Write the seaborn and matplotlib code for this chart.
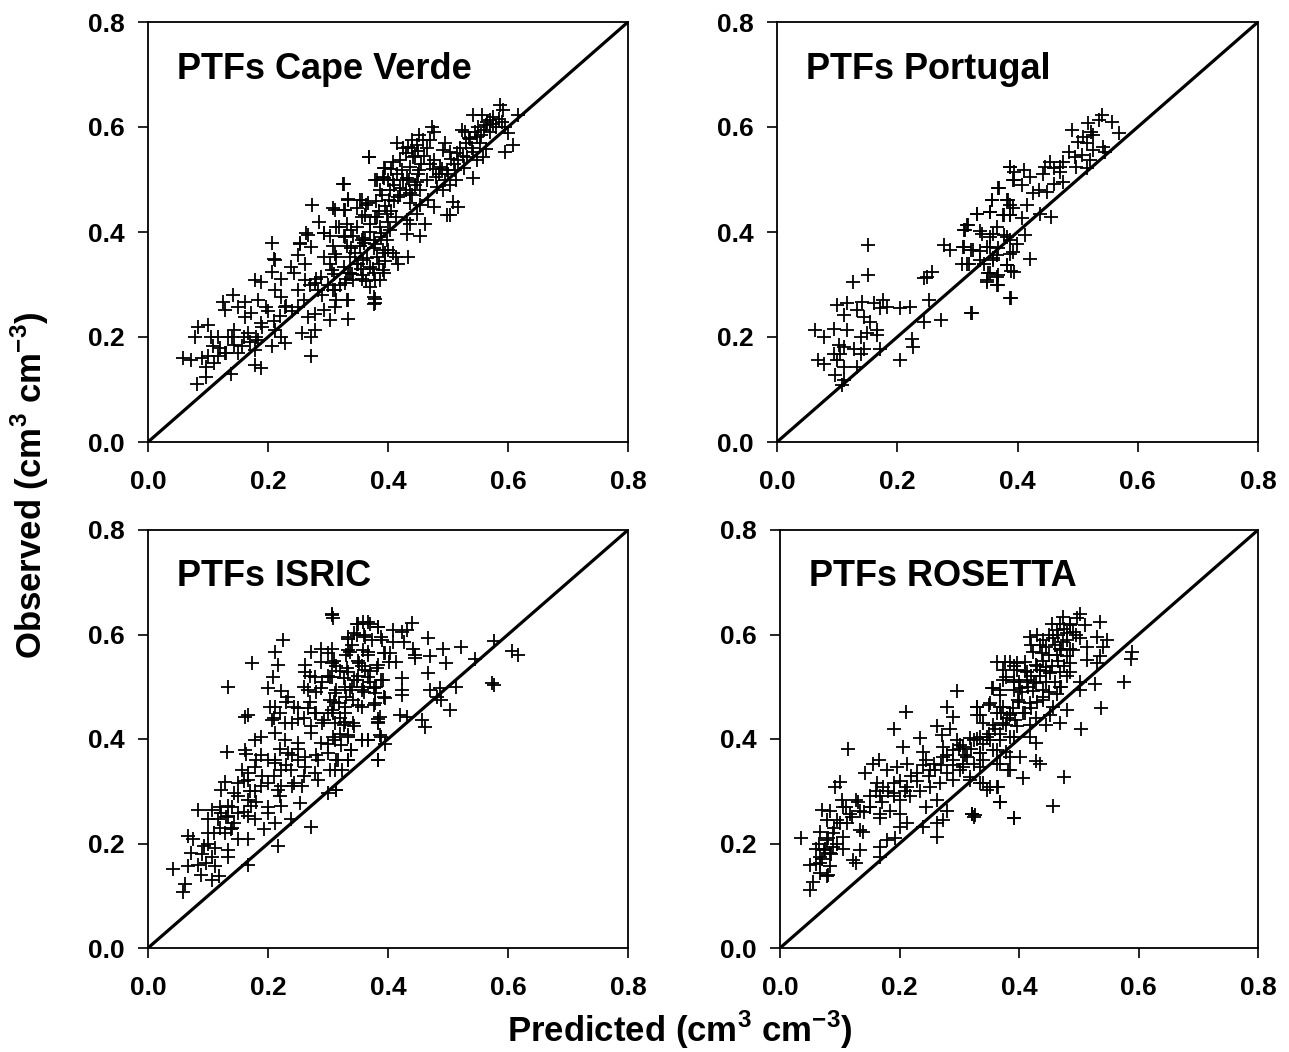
import numpy as np
import pandas as pd
import matplotlib
matplotlib.use("Agg")
import matplotlib.pyplot as plt
import seaborn as sns

# ---------------------------------------------------------------------------
# Water content (cm3 cm-3): predicted vs observed for four sets of PTFs
# ---------------------------------------------------------------------------
titles = ["PTFs Cape Verde", "PTFs Portugal", "PTFs ISRIC", "PTFs ROSETTA"]
ticks = [0.0, 0.2, 0.4, 0.6, 0.8]
tick_labels = ["0.0", "0.2", "0.4", "0.6", "0.8"]

cape_verde_pred = [
    0.587, 0.592, 0.617, 0.542, 0.556, 0.570, 0.575, 0.564, 0.523, 0.528, 0.473, 0.476, 0.600, 0.609, 0.595,
    0.451, 0.440, 0.459, 0.470, 0.448, 0.434, 0.495, 0.492, 0.503, 0.537, 0.548, 0.553, 0.564, 0.542, 0.531,
    0.517, 0.548, 0.559, 0.369, 0.409, 0.420, 0.442, 0.395, 0.423, 0.437, 0.451, 0.476, 0.487, 0.498, 0.512,
    0.526, 0.542, 0.514, 0.503, 0.492, 0.481, 0.378, 0.392, 0.409, 0.431, 0.448, 0.465, 0.326, 0.387, 0.403,
    0.420, 0.437, 0.453, 0.467, 0.334, 0.353, 0.367, 0.401, 0.417, 0.437, 0.453, 0.476, 0.517, 0.509, 0.309,
    0.326, 0.348, 0.362, 0.381, 0.398, 0.414, 0.431, 0.448, 0.462, 0.498, 0.503, 0.314, 0.331, 0.348, 0.370,
    0.387, 0.403, 0.437, 0.431, 0.453, 0.303, 0.326, 0.342, 0.359, 0.376, 0.398, 0.309, 0.331, 0.353, 0.376,
    0.392, 0.409, 0.414, 0.434, 0.417, 0.314, 0.337, 0.359, 0.381, 0.395, 0.303, 0.326, 0.348, 0.370, 0.392,
    0.337, 0.359, 0.376, 0.342, 0.364, 0.387, 0.370, 0.309, 0.314, 0.331, 0.376, 0.376,
    0.206, 0.253, 0.267, 0.294, 0.211, 0.250, 0.261, 0.294, 0.311, 0.328, 0.339, 0.356, 0.378, 0.389, 0.400,
    0.333, 0.356, 0.378, 0.394, 0.378, 0.378, 0.178, 0.189, 0.206, 0.222, 0.239, 0.244, 0.261, 0.278, 0.289,
    0.306, 0.311, 0.328, 0.283, 0.142, 0.125, 0.128, 0.150, 0.161, 0.183, 0.197, 0.211, 0.222, 0.228, 0.250,
    0.267, 0.278, 0.294, 0.311, 0.303, 0.333, 0.333, 0.161, 0.172, 0.189, 0.083, 0.100, 0.078, 0.117, 0.144,
    0.133, 0.167, 0.183, 0.211, 0.222, 0.228, 0.206, 0.256, 0.272, 0.278, 0.108, 0.144, 0.156, 0.128, 0.178,
    0.100, 0.117, 0.058, 0.072, 0.097, 0.097, 0.081, 0.139, 0.178, 0.189, 0.272,
    0.368, 0.325, 0.273, 0.285, 0.210, 0.333, 0.311, 0.328, 0.356, 0.364, 0.381, 0.394, 0.394, 0.264, 0.253,
    0.272, 0.294, 0.319, 0.339, 0.356, 0.378, 0.389, 0.361,
    0.415, 0.425, 0.430, 0.440, 0.445, 0.450, 0.455, 0.460, 0.465, 0.470, 0.475, 0.480, 0.485, 0.490, 0.495,
    0.500, 0.505, 0.510, 0.515, 0.520, 0.525, 0.530, 0.535, 0.540, 0.545, 0.550, 0.555, 0.560, 0.565, 0.570,
    0.575, 0.580, 0.585, 0.590, 0.595, 0.400, 0.405, 0.410, 0.415, 0.420, 0.425, 0.430, 0.435, 0.440, 0.445,
    0.450, 0.390, 0.385, 0.395, 0.400, 0.405, 0.410, 0.380, 0.370, 0.360, 0.350, 0.345, 0.355, 0.365, 0.375,
    0.385, 0.395, 0.340, 0.330, 0.320, 0.310, 0.300, 0.290, 0.280, 0.270, 0.260, 0.250, 0.240, 0.230, 0.220,
    0.210, 0.200, 0.190, 0.180, 0.170, 0.160, 0.150, 0.140, 0.130, 0.120, 0.110, 0.105, 0.090,
]
cape_verde_obs = [
    0.642, 0.632, 0.623, 0.623, 0.623, 0.613, 0.606, 0.604, 0.594, 0.591, 0.600, 0.591, 0.589, 0.565, 0.553,
    0.585, 0.575, 0.575, 0.575, 0.566, 0.562, 0.569, 0.556, 0.553, 0.578, 0.581, 0.569, 0.559, 0.553, 0.543,
    0.537, 0.537, 0.543, 0.543, 0.534, 0.537, 0.543, 0.521, 0.518, 0.524, 0.518, 0.537, 0.524, 0.518, 0.518,
    0.521, 0.502, 0.499, 0.490, 0.480, 0.486, 0.499, 0.505, 0.499, 0.502, 0.496, 0.499, 0.491, 0.480, 0.480,
    0.483, 0.474, 0.480, 0.461, 0.461, 0.461, 0.455, 0.461, 0.467, 0.455, 0.451, 0.448, 0.448, 0.457, 0.446,
    0.442, 0.446, 0.432, 0.429, 0.435, 0.429, 0.423, 0.435, 0.416, 0.432, 0.432, 0.410, 0.416, 0.410, 0.416,
    0.410, 0.404, 0.416, 0.397, 0.393, 0.392, 0.392, 0.392, 0.389, 0.385, 0.385, 0.373, 0.373, 0.373, 0.370,
    0.366, 0.360, 0.353, 0.353, 0.340, 0.353, 0.353, 0.347, 0.353, 0.344, 0.340, 0.334, 0.340, 0.334, 0.327,
    0.321, 0.318, 0.321, 0.309, 0.306, 0.309, 0.296, 0.289, 0.270, 0.270, 0.276, 0.263,
    0.380, 0.378, 0.394, 0.398, 0.347, 0.356, 0.340, 0.353, 0.359, 0.391, 0.369, 0.385, 0.378, 0.391, 0.366,
    0.321, 0.311, 0.308, 0.321, 0.273, 0.264, 0.309, 0.305, 0.324, 0.311, 0.334, 0.321, 0.308, 0.302, 0.315,
    0.327, 0.289, 0.302, 0.289, 0.280, 0.267, 0.251, 0.257, 0.267, 0.270, 0.257, 0.289, 0.276, 0.257, 0.257,
    0.238, 0.244, 0.251, 0.257, 0.232, 0.235, 0.270, 0.238, 0.245, 0.226, 0.219, 0.222, 0.200, 0.200, 0.213,
    0.200, 0.207, 0.194, 0.213, 0.200, 0.188, 0.182, 0.207, 0.200, 0.213, 0.182, 0.185, 0.182, 0.169, 0.175,
    0.163, 0.163, 0.160, 0.156, 0.143, 0.124, 0.111, 0.130, 0.147, 0.141, 0.163,
    0.543, 0.491, 0.451, 0.419, 0.349, 0.463, 0.442, 0.442, 0.461, 0.451, 0.499, 0.521, 0.502, 0.398, 0.379,
    0.372, 0.398, 0.410, 0.404, 0.429, 0.429, 0.398, 0.385,
    0.570, 0.560, 0.550, 0.560, 0.545, 0.555, 0.530, 0.545, 0.560, 0.530, 0.520, 0.505, 0.510, 0.520, 0.500,
    0.510, 0.540, 0.530, 0.550, 0.560, 0.545, 0.570, 0.580, 0.560, 0.590, 0.600, 0.585, 0.595, 0.610, 0.590,
    0.620, 0.600, 0.615, 0.610, 0.600, 0.500, 0.520, 0.490, 0.510, 0.470, 0.500, 0.480, 0.500, 0.470, 0.490,
    0.510, 0.470, 0.440, 0.450, 0.420, 0.440, 0.460, 0.460, 0.400, 0.380, 0.340, 0.360, 0.330, 0.350, 0.330,
    0.340, 0.360, 0.320, 0.310, 0.300, 0.320, 0.300, 0.280, 0.310, 0.300, 0.270, 0.290, 0.250, 0.260, 0.240,
    0.230, 0.250, 0.220, 0.200, 0.190, 0.200, 0.170, 0.200, 0.170, 0.180, 0.150, 0.200, 0.160,
]

portugal_pred = [
    0.388, 0.394, 0.394, 0.369, 0.358, 0.383, 0.388, 0.332, 0.355, 0.377, 0.388, 0.316, 0.311, 0.366, 0.341,
    0.355, 0.377, 0.388, 0.277, 0.288, 0.311, 0.322, 0.338, 0.355, 0.366, 0.388, 0.308, 0.319, 0.344, 0.360,
    0.383, 0.394, 0.355, 0.366, 0.349, 0.366, 0.388, 0.323, 0.151, 0.151, 0.126, 0.250, 0.258, 0.244, 0.252,
    0.272, 0.244, 0.205, 0.222, 0.177, 0.183, 0.172, 0.161, 0.141, 0.100, 0.116, 0.133, 0.111, 0.144, 0.155,
    0.166, 0.150, 0.166, 0.064, 0.078, 0.094, 0.116, 0.139, 0.103, 0.111, 0.128, 0.144, 0.094, 0.105, 0.139,
    0.172, 0.069, 0.078, 0.100, 0.133, 0.111, 0.097, 0.111, 0.108, 0.205, 0.225, 0.227,
    0.540, 0.535, 0.557, 0.518, 0.568, 0.490, 0.523, 0.526, 0.509, 0.501, 0.515, 0.543, 0.526, 0.546, 0.485,
    0.496, 0.507, 0.521, 0.498, 0.515, 0.476, 0.454, 0.446, 0.460, 0.471, 0.471, 0.443, 0.388, 0.410, 0.421,
    0.393, 0.407, 0.368, 0.460, 0.476, 0.435, 0.449, 0.426, 0.357, 0.385, 0.415, 0.393, 0.332, 0.354, 0.376,
    0.388, 0.407, 0.437, 0.456, 0.318, 0.313, 0.337, 0.359, 0.382, 0.413, 0.399, 0.310, 0.326, 0.349, 0.368,
    0.393, 0.421, 0.316, 0.337, 0.359, 0.382, 0.390, 0.351, 0.368, 0.349, 0.368, 0.389, 0.324,
]
portugal_obs = [
    0.524, 0.515, 0.499, 0.484, 0.461, 0.461, 0.451, 0.435, 0.439, 0.432, 0.432, 0.413, 0.404, 0.410, 0.397,
    0.391, 0.394, 0.385, 0.375, 0.366, 0.372, 0.366, 0.363, 0.372, 0.356, 0.359, 0.340, 0.340, 0.340, 0.347,
    0.337, 0.324, 0.321, 0.315, 0.309, 0.299, 0.274, 0.246, 0.376, 0.318, 0.305, 0.315, 0.324, 0.312, 0.271,
    0.233, 0.229, 0.255, 0.258, 0.270, 0.258, 0.255, 0.264, 0.267, 0.261, 0.264, 0.252, 0.242, 0.239, 0.229,
    0.213, 0.207, 0.204, 0.213, 0.200, 0.216, 0.213, 0.200, 0.184, 0.181, 0.178, 0.178, 0.168, 0.168, 0.168,
    0.178, 0.156, 0.149, 0.156, 0.143, 0.143, 0.127, 0.118, 0.109, 0.157, 0.197, 0.181,
    0.623, 0.613, 0.610, 0.607, 0.588, 0.594, 0.591, 0.585, 0.581, 0.572, 0.569, 0.562, 0.556, 0.553, 0.553,
    0.543, 0.546, 0.537, 0.524, 0.521, 0.534, 0.534, 0.524, 0.521, 0.524, 0.515, 0.511, 0.524, 0.518, 0.505,
    0.499, 0.489, 0.483, 0.492, 0.495, 0.480, 0.477, 0.474, 0.461, 0.461, 0.451, 0.445, 0.435, 0.439, 0.432,
    0.432, 0.426, 0.435, 0.429, 0.413, 0.404, 0.401, 0.397, 0.391, 0.394, 0.378, 0.372, 0.366, 0.372, 0.369,
    0.362, 0.349, 0.340, 0.347, 0.351, 0.338, 0.325, 0.321, 0.318, 0.305, 0.299, 0.274, 0.245,
]

isric_pred = [
    0.306, 0.308, 0.350, 0.367, 0.383, 0.344, 0.361, 0.389, 0.333, 0.225, 0.289, 0.272, 0.211, 0.300, 0.333,
    0.367, 0.394, 0.174, 0.217, 0.261, 0.289, 0.306, 0.356, 0.383, 0.261, 0.278, 0.306, 0.333, 0.344, 0.367,
    0.389, 0.133, 0.208, 0.200, 0.222, 0.233, 0.267, 0.289, 0.311, 0.328, 0.356, 0.378, 0.394, 0.203, 0.211,
    0.244, 0.267, 0.278, 0.306, 0.328, 0.350, 0.378, 0.161, 0.167, 0.206, 0.228, 0.250, 0.272, 0.294, 0.311,
    0.328, 0.344, 0.383, 0.383, 0.189, 0.178, 0.211, 0.228, 0.250, 0.272, 0.289, 0.311, 0.333, 0.356, 0.367,
    0.389, 0.131, 0.161, 0.164, 0.189, 0.211, 0.233, 0.250, 0.261, 0.283, 0.300, 0.317, 0.339, 0.383, 0.156,
    0.167, 0.178, 0.211, 0.222, 0.239, 0.261, 0.278, 0.311, 0.333, 0.128, 0.150, 0.167, 0.189, 0.200, 0.222,
    0.244, 0.256, 0.283, 0.122, 0.144, 0.167, 0.178, 0.217, 0.300, 0.314, 0.083, 0.106, 0.122, 0.133, 0.150,
    0.172, 0.178, 0.200, 0.222, 0.253, 0.100, 0.117, 0.133, 0.144, 0.167, 0.194, 0.211, 0.239, 0.271, 0.067,
    0.075, 0.100, 0.128, 0.139, 0.150, 0.167, 0.217, 0.094, 0.111, 0.133, 0.072, 0.106, 0.133, 0.083, 0.097,
    0.067, 0.042, 0.111, 0.167, 0.089, 0.106, 0.119, 0.061, 0.058,
    0.306, 0.348, 0.359, 0.370, 0.384, 0.440, 0.409, 0.423, 0.431, 0.334, 0.348, 0.373, 0.390, 0.409, 0.426,
    0.466, 0.306, 0.337, 0.359, 0.367, 0.395, 0.403, 0.442, 0.445, 0.492, 0.522, 0.576, 0.606, 0.617, 0.401,
    0.414, 0.445, 0.470, 0.496, 0.545, 0.314, 0.331, 0.351, 0.362, 0.381, 0.303, 0.326, 0.348, 0.370, 0.392,
    0.423, 0.467, 0.314, 0.337, 0.359, 0.376, 0.423, 0.470, 0.487, 0.513, 0.574, 0.576, 0.303, 0.319, 0.342,
    0.356, 0.376, 0.395, 0.423, 0.481, 0.489, 0.309, 0.328, 0.342, 0.387, 0.384, 0.420, 0.431, 0.503, 0.456,
    0.461, 0.326, 0.309, 0.334, 0.356, 0.367, 0.387, 0.395, 0.321, 0.339, 0.314, 0.334, 0.383, 0.303, 0.323,
    0.314,
    0.210, 0.220, 0.230, 0.240, 0.250, 0.260, 0.270, 0.280, 0.290, 0.300, 0.310, 0.320, 0.330, 0.340, 0.350,
    0.360, 0.370, 0.380, 0.300, 0.310, 0.320, 0.330, 0.340, 0.350, 0.360, 0.290, 0.280, 0.270, 0.260, 0.250,
    0.240, 0.230, 0.220, 0.210, 0.200, 0.190, 0.180, 0.170, 0.160, 0.150, 0.140, 0.130, 0.120, 0.110, 0.100,
    0.090, 0.120, 0.140, 0.160, 0.180, 0.200, 0.220, 0.240, 0.260, 0.280, 0.300, 0.320,
]
isric_obs = [
    0.640, 0.631, 0.621, 0.624, 0.615, 0.602, 0.596, 0.596, 0.592, 0.589, 0.573, 0.567, 0.567, 0.564, 0.570,
    0.567, 0.564, 0.545, 0.542, 0.542, 0.548, 0.545, 0.539, 0.542, 0.529, 0.519, 0.519, 0.529, 0.513, 0.519,
    0.513, 0.500, 0.519, 0.497, 0.491, 0.481, 0.494, 0.497, 0.488, 0.500, 0.494, 0.488, 0.481, 0.461, 0.461,
    0.461, 0.459, 0.449, 0.455, 0.461, 0.465, 0.468, 0.443, 0.446, 0.436, 0.430, 0.439, 0.424, 0.436, 0.430,
    0.433, 0.424, 0.439, 0.430, 0.404, 0.398, 0.411, 0.398, 0.392, 0.411, 0.392, 0.398, 0.404, 0.398, 0.398,
    0.404, 0.375, 0.379, 0.372, 0.369, 0.360, 0.373, 0.360, 0.366, 0.360, 0.373, 0.360, 0.379, 0.360, 0.341,
    0.335, 0.347, 0.354, 0.341, 0.341, 0.347, 0.335, 0.341, 0.360, 0.318, 0.315, 0.322, 0.310, 0.315, 0.310,
    0.315, 0.310, 0.322, 0.303, 0.297, 0.284, 0.300, 0.303, 0.297, 0.303, 0.265, 0.265, 0.259, 0.271, 0.259,
    0.271, 0.246, 0.259, 0.271, 0.277, 0.246, 0.246, 0.252, 0.240, 0.252, 0.227, 0.240, 0.246, 0.231, 0.214,
    0.208, 0.221, 0.221, 0.227, 0.208, 0.208, 0.195, 0.195, 0.191, 0.188, 0.182, 0.175, 0.175, 0.159, 0.163,
    0.156, 0.151, 0.156, 0.159, 0.140, 0.131, 0.137, 0.122, 0.107,
    0.637, 0.621, 0.624, 0.621, 0.615, 0.622, 0.609, 0.605, 0.609, 0.596, 0.599, 0.589, 0.589, 0.586, 0.586,
    0.594, 0.573, 0.567, 0.570, 0.561, 0.564, 0.564, 0.573, 0.561, 0.573, 0.577, 0.588, 0.569, 0.561, 0.548,
    0.548, 0.555, 0.558, 0.545, 0.553, 0.539, 0.535, 0.545, 0.532, 0.535, 0.519, 0.516, 0.513, 0.510, 0.513,
    0.516, 0.526, 0.494, 0.494, 0.500, 0.497, 0.494, 0.494, 0.497, 0.499, 0.508, 0.504, 0.475, 0.468, 0.475,
    0.462, 0.465, 0.478, 0.484, 0.481, 0.475, 0.449, 0.449, 0.430, 0.443, 0.433, 0.446, 0.443, 0.455, 0.436,
    0.423, 0.427, 0.404, 0.407, 0.398, 0.398, 0.407, 0.391, 0.389, 0.379, 0.360, 0.360, 0.360, 0.341, 0.340,
    0.303,
    0.440, 0.450, 0.470, 0.430, 0.460, 0.440, 0.470, 0.450, 0.430, 0.450, 0.470, 0.440, 0.480, 0.500, 0.520,
    0.490, 0.530, 0.500, 0.520, 0.550, 0.530, 0.560, 0.580, 0.550, 0.600, 0.510, 0.490, 0.520, 0.500, 0.380,
    0.370, 0.350, 0.380, 0.330, 0.360, 0.330, 0.360, 0.300, 0.320, 0.290, 0.270, 0.250, 0.230, 0.220, 0.200,
    0.180, 0.270, 0.230, 0.260, 0.280, 0.270, 0.290, 0.310, 0.330, 0.370, 0.390, 0.410,
]

rosetta_pred = [
    0.385, 0.391, 0.379, 0.391, 0.296, 0.357, 0.368, 0.391, 0.349, 0.329, 0.335, 0.368, 0.385, 0.393, 0.211,
    0.279, 0.290, 0.262, 0.285, 0.357, 0.379, 0.191, 0.234, 0.271, 0.296, 0.318, 0.335, 0.351, 0.368, 0.391,
    0.113, 0.206, 0.240, 0.273, 0.290, 0.307, 0.335, 0.363, 0.385, 0.156, 0.165, 0.212, 0.245, 0.257, 0.273,
    0.290, 0.307, 0.324, 0.340, 0.368, 0.382, 0.142, 0.179, 0.195, 0.229, 0.251, 0.279, 0.301, 0.318, 0.100,
    0.092, 0.162, 0.173, 0.190, 0.212, 0.234, 0.251, 0.268, 0.290, 0.335, 0.346, 0.363, 0.103, 0.128, 0.151,
    0.167, 0.190, 0.201, 0.218, 0.245, 0.262, 0.368, 0.070, 0.084, 0.106, 0.117, 0.134, 0.151, 0.167, 0.184,
    0.201, 0.279, 0.321, 0.324, 0.078, 0.095, 0.112, 0.134, 0.167, 0.201, 0.212, 0.240, 0.262, 0.273, 0.391,
    0.035, 0.067, 0.078, 0.089, 0.106, 0.139, 0.262, 0.061, 0.073, 0.089, 0.106, 0.134, 0.167, 0.179, 0.192,
    0.067, 0.084, 0.123, 0.167, 0.050, 0.067, 0.084, 0.128, 0.067, 0.078, 0.056, 0.050,
    0.502, 0.497, 0.474, 0.469, 0.485, 0.510, 0.536, 0.463, 0.480, 0.491, 0.418, 0.457, 0.474, 0.502, 0.530,
    0.547, 0.435, 0.446, 0.469, 0.485, 0.513, 0.541, 0.589, 0.424, 0.438, 0.463, 0.480, 0.536, 0.587, 0.364,
    0.377, 0.396, 0.410, 0.429, 0.446, 0.485, 0.513, 0.530, 0.374, 0.396, 0.413, 0.435, 0.452, 0.469, 0.485,
    0.374, 0.391, 0.413, 0.429, 0.446, 0.469, 0.502, 0.527, 0.575, 0.354, 0.368, 0.402, 0.424, 0.441, 0.463,
    0.502, 0.329, 0.351, 0.374, 0.399, 0.418, 0.441, 0.457, 0.480, 0.538, 0.329, 0.363, 0.385, 0.407, 0.429,
    0.452, 0.340, 0.374, 0.396, 0.418, 0.446, 0.469, 0.504, 0.301, 0.324, 0.346, 0.368, 0.385, 0.418, 0.429,
    0.313, 0.335, 0.357, 0.379, 0.402, 0.429, 0.435, 0.307, 0.335, 0.363, 0.385, 0.407, 0.475, 0.318, 0.340,
    0.351, 0.365, 0.368, 0.321, 0.327, 0.392, 0.457,
    0.420, 0.430, 0.440, 0.450, 0.455, 0.460, 0.465, 0.470, 0.475, 0.480, 0.485, 0.490, 0.495, 0.450, 0.440,
    0.430, 0.420, 0.410, 0.400, 0.405, 0.415, 0.425, 0.435, 0.445, 0.455, 0.465, 0.475, 0.480, 0.470, 0.460,
    0.450, 0.440, 0.430, 0.420, 0.410, 0.400, 0.390, 0.380, 0.370, 0.360, 0.350, 0.340, 0.330, 0.320, 0.310,
    0.300, 0.290, 0.280, 0.270, 0.260, 0.250, 0.240, 0.230, 0.220, 0.210, 0.200, 0.190, 0.180, 0.170, 0.160,
    0.150, 0.140, 0.130, 0.120, 0.110, 0.100, 0.090, 0.080, 0.075, 0.085, 0.070, 0.065, 0.095, 0.060, 0.080,
]
rosetta_obs = [
    0.548, 0.539, 0.519, 0.513, 0.492, 0.497, 0.484, 0.494, 0.465, 0.462, 0.446, 0.462, 0.449, 0.436, 0.452,
    0.462, 0.443, 0.425, 0.420, 0.427, 0.427, 0.420, 0.401, 0.407, 0.398, 0.401, 0.404, 0.398, 0.410, 0.404,
    0.381, 0.385, 0.376, 0.385, 0.379, 0.385, 0.373, 0.379, 0.366, 0.353, 0.360, 0.353, 0.360, 0.353, 0.366,
    0.360, 0.353, 0.353, 0.360, 0.353, 0.340, 0.334, 0.341, 0.347, 0.334, 0.341, 0.334, 0.341, 0.328, 0.318,
    0.309, 0.315, 0.309, 0.315, 0.309, 0.300, 0.309, 0.315, 0.322, 0.315, 0.303, 0.309, 0.283, 0.283, 0.290,
    0.290, 0.297, 0.283, 0.290, 0.270, 0.283, 0.280, 0.265, 0.263, 0.270, 0.257, 0.263, 0.270, 0.257, 0.263,
    0.257, 0.263, 0.257, 0.251, 0.245, 0.245, 0.239, 0.226, 0.248, 0.231, 0.240, 0.231, 0.240, 0.245, 0.248,
    0.210, 0.222, 0.207, 0.220, 0.213, 0.222, 0.213, 0.190, 0.188, 0.194, 0.190, 0.188, 0.194, 0.207, 0.210,
    0.175, 0.182, 0.169, 0.175, 0.159, 0.162, 0.156, 0.162, 0.143, 0.137, 0.127, 0.111,
    0.640, 0.631, 0.634, 0.621, 0.618, 0.618, 0.623, 0.609, 0.602, 0.605, 0.596, 0.593, 0.586, 0.593, 0.596,
    0.589, 0.580, 0.577, 0.573, 0.573, 0.577, 0.577, 0.567, 0.567, 0.564, 0.561, 0.558, 0.558, 0.553, 0.548,
    0.548, 0.545, 0.548, 0.541, 0.538, 0.545, 0.551, 0.545, 0.532, 0.532, 0.529, 0.532, 0.526, 0.529, 0.529,
    0.513, 0.510, 0.513, 0.507, 0.510, 0.500, 0.510, 0.505, 0.510, 0.497, 0.494, 0.497, 0.491, 0.494, 0.487,
    0.494, 0.462, 0.468, 0.462, 0.475, 0.468, 0.475, 0.462, 0.455, 0.459, 0.446, 0.449, 0.446, 0.449, 0.440,
    0.446, 0.430, 0.430, 0.424, 0.427, 0.427, 0.430, 0.420, 0.389, 0.398, 0.404, 0.398, 0.404, 0.404, 0.392,
    0.366, 0.373, 0.379, 0.376, 0.366, 0.357, 0.353, 0.347, 0.347, 0.353, 0.341, 0.325, 0.328, 0.322, 0.315,
    0.309, 0.309, 0.280, 0.257, 0.254, 0.248, 0.272,
    0.580, 0.600, 0.590, 0.600, 0.620, 0.580, 0.600, 0.570, 0.610, 0.590, 0.620, 0.570, 0.600, 0.560, 0.550,
    0.540, 0.520, 0.530, 0.510, 0.490, 0.500, 0.510, 0.520, 0.530, 0.540, 0.550, 0.540, 0.520, 0.500, 0.510,
    0.490, 0.480, 0.470, 0.460, 0.450, 0.470, 0.460, 0.440, 0.450, 0.420, 0.410, 0.390, 0.400, 0.380, 0.370,
    0.380, 0.350, 0.370, 0.350, 0.340, 0.330, 0.350, 0.320, 0.330, 0.300, 0.320, 0.290, 0.300, 0.280, 0.300,
    0.270, 0.260, 0.280, 0.250, 0.270, 0.240, 0.230, 0.210, 0.190, 0.180, 0.170, 0.200, 0.200, 0.160, 0.140,
]

panels = [
    (titles[0], cape_verde_pred, cape_verde_obs),
    (titles[1], portugal_pred, portugal_obs),
    (titles[2], isric_pred, isric_obs),
    (titles[3], rosetta_pred, rosetta_obs),
]

sns.set_theme(style="ticks")
plt.rcParams["font.family"] = ["Liberation Sans", "DejaVu Sans"]
plt.rcParams["font.weight"] = "bold"
plt.rcParams["mathtext.fontset"] = "custom"
plt.rcParams["mathtext.bf"] = "Liberation Sans:bold"
plt.rcParams["mathtext.rm"] = "Liberation Sans:bold"
plt.rcParams["text.color"] = "black"
plt.rcParams["xtick.color"] = "black"
plt.rcParams["ytick.color"] = "black"
plt.rcParams["xtick.labelcolor"] = "black"
plt.rcParams["ytick.labelcolor"] = "black"

W, H = 1289, 1052
fig = plt.figure(figsize=(W / 100, H / 100), dpi=100)

# axes boxes in pixels: left, top, right, bottom
boxes = [
    (148, 22, 628, 442),
    (777, 22, 1258, 442),
    (148, 530, 628, 948),
    (780, 530, 1258, 948),
]

for (title, pred, obs), (l, t, r, b) in zip(panels, boxes):
    ax = fig.add_axes([l / W, 1 - b / H, (r - l) / W, (b - t) / H])
    df = pd.DataFrame({"Predicted": pred, "Observed": obs})
    sns.scatterplot(data=df, x="Predicted", y="Observed", ax=ax, marker="+",
                    color="black", s=95, linewidth=1.3, legend=False)
    lo, hi = ticks[0], ticks[-1]
    ax.plot([lo, hi], [lo, hi], color="black", lw=2.3, zorder=1)
    ax.set_xlim(lo, hi)
    ax.set_ylim(lo, hi)
    ax.set_xticks(ticks)
    ax.set_yticks(ticks)
    ax.set_xticklabels(tick_labels, fontsize=19, fontweight="bold", color="black")
    ax.set_yticklabels(tick_labels, fontsize=19, fontweight="bold", color="black")
    ax.tick_params(axis="both", direction="out", length=7, width=1.2, color="black")
    ax.tick_params(axis="x", pad=13)
    ax.tick_params(axis="y", pad=10)
    ax.set_xlabel("")
    ax.set_ylabel("")
    for sp in ax.spines.values():
        sp.set_visible(True)
        sp.set_color("black")
        sp.set_linewidth(1.3)
    ax.text(0.06, 0.888, title, transform=ax.transAxes, fontsize=26,
            fontweight="bold", va="center", ha="left", color="black")

unit = r"(cm$^{\mathbf{3}}$ cm$^{\mathbf{-3}}$)"
fig.text(30 / W, 1 - 485 / H, "Observed " + unit, rotation=90, fontsize=25,
         fontweight="bold", ha="center", va="center", color="black")
fig.text(680 / W, 1 - 1030 / H, "Predicted " + unit, fontsize=25,
         fontweight="bold", ha="center", va="center", color="black")

fig.savefig("out.png", dpi=100, facecolor="white")
